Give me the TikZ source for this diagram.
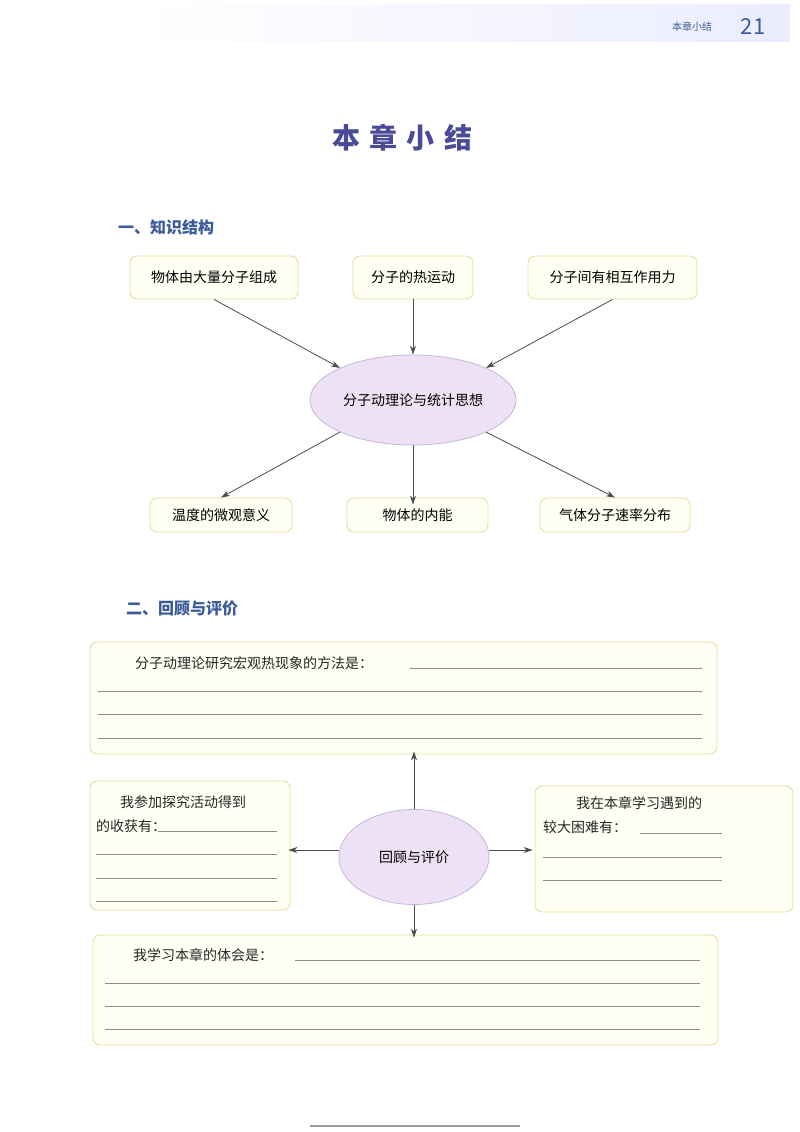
\documentclass[tikz,border=0pt]{standalone}
\usepackage{fontspec}
\setmainfont{Noto Sans CJK SC}
\newfontfamily\cjk{Noto Sans CJK SC}
\usetikzlibrary{shapes.geometric,arrows.meta}
\definecolor{bxline}{HTML}{E6DFA0}
\definecolor{bxfill}{HTML}{FFFFF4}
\definecolor{elfill}{HTML}{EDE2F5}
\definecolor{elline}{HTML}{C9B3DA}
\definecolor{ttl}{HTML}{4B4A96}
\definecolor{sec}{HTML}{3B5C98}
\definecolor{wline}{HTML}{8C8C8C}
\tikzset{
  kbox/.style={draw=bxline,fill=bxfill,rounded corners=7pt,line width=0.9pt,inner sep=0pt,font=\fontsize{14}{16}\selectfont},
  ell/.style={ellipse,draw=elline,fill=elfill,line width=0.8pt,inner sep=0pt,font=\fontsize{14}{16}\selectfont},
  arr/.style={-{Stealth[length=9pt,width=6pt]},draw=black!70,line width=0.8pt},
  wl/.style={draw=wline,line width=0.6pt},
  txt/.style={inner sep=0pt,anchor=west,font=\fontsize{14}{16}\selectfont,text=black!85},
}
\begin{document}
\begin{tikzpicture}[x=1pt,y=-1pt]
\useasboundingbox (0,0) rectangle (800,1132);
\fill[white] (0,0) rectangle (800,1132);
% header band
\shade[left color=white,right color=cyan!10!blue!8] (140,5) rectangle (790,42);
\node[inner sep=0pt,text=sec,font=\fontsize{10}{12}\selectfont] (hdr) at (692,27) {本章小结};
\node[inner sep=0pt,text=sec,font=\fontsize{22}{24}\selectfont] (pg) at (753,27) {21};
% title
\node[inner sep=0pt,text=ttl,font=\fontsize{28}{30}\selectfont\bfseries] (title) at (402,138) {本\,\,章\,\,小\,\,结};
\node[inner sep=0pt,anchor=west,text=sec,font=\fontsize{16}{18}\selectfont\bfseries] (s1) at (118,227) {一、知识结构};
% knowledge structure
\node[kbox,minimum width=168,minimum height=43] (a1) at (214,277.5) {物体由大量分子组成};
\node[kbox,minimum width=120,minimum height=43] (a2) at (413,277.5) {分子的热运动};
\node[kbox,minimum width=169,minimum height=43] (a3) at (612.5,277.5) {分子间有相互作用力};
\node[ell,minimum width=206,minimum height=90] (c) at (413,400) {分子动理论与统计思想};
\node[kbox,minimum width=142,minimum height=34] (b1) at (221,515) {温度的微观意义};
\node[kbox,minimum width=141,minimum height=34] (b2) at (417.5,515) {物体的内能};
\node[kbox,minimum width=150,minimum height=34] (b3) at (615,515) {气体分子速率分布};
\draw[arr] (a1.south) -- (c.north west);
\draw[arr] (a2.south) -- (c.north);
\draw[arr] (a3.south) -- (c.north east);
\draw[arr] (c.south west) -- (b1.north);
\draw[arr] (c.south) -- ([yshift=-7]b2.north -| c.south);
\draw[arr] (c.south east) -- (b3.north);
% section 2
\node[inner sep=0pt,anchor=west,text=sec,font=\fontsize{16}{18}\selectfont\bfseries] (s2) at (126,608) {二、回顾与评价};
\node[kbox,minimum width=627,minimum height=112] (r1) at (403.5,698) {};
\node[kbox,minimum width=200,minimum height=129] (r2) at (190,845.5) {};
\node[kbox,minimum width=258,minimum height=126] (r3) at (664,849) {};
\node[kbox,minimum width=625,minimum height=110] (r4) at (405.5,990) {};
\node[ell,minimum width=150,minimum height=95] (c2) at (414,857) {回顾与评价};
\draw[arr] (c2.north) -- ([yshift=3]r1.south -| c2.north);
\draw[arr] (c2.west |- 0,850) -- ([xshift=-2]r2.east |- 0,850);
\draw[arr] (c2.east |- 0,850) -- ([xshift=-2]r3.west |- 0,850);
\draw[arr] (c2.south) -- ([yshift=-3]r4.north -| c2.south);
% texts and write lines
\node[txt] (t1) at (135,663) {分子动理论研究宏观热现象的方法是：};
\draw[wl] (410,668) -- (702,668);
\foreach \y in {691,714,738} \draw[wl] (98,\y) -- (702,\y);
\node[txt] (t2) at (120,802) {我参加探究活动得到};
\node[txt] (t3) at (96,826) {的收获有：};
\draw[wl] (158,831) -- (277,831);
\foreach \y in {854,878,901} \draw[wl] (96,\y) -- (277,\y);
\node[txt] (t4) at (576,803) {我在本章学习遇到的};
\node[txt] (t5) at (543,827) {较大困难有：};
\draw[wl] (640,833) -- (722,833);
\foreach \y in {857,880} \draw[wl] (543,\y) -- (722,\y);
\node[txt] (t6) at (133,955) {我学习本章的体会是：};
\draw[wl] (295,960) -- (700,960);
\foreach \y in {983,1006,1029} \draw[wl] (105,\y) -- (700,\y);
\draw[black!40,line width=1.5pt] (310,1126) -- (520,1126);
\end{tikzpicture}
\end{document}
